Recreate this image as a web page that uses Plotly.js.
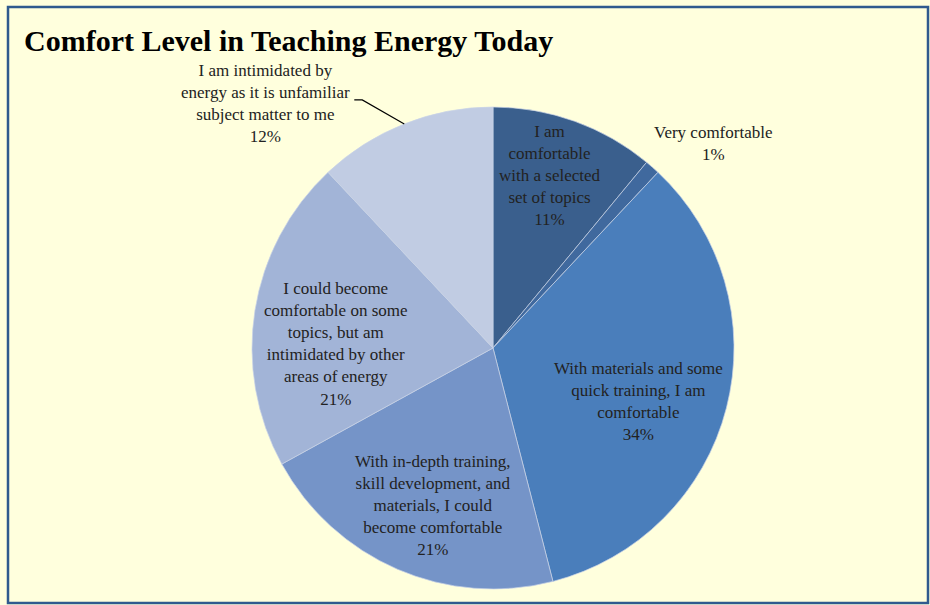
<!DOCTYPE html>
<html>
<head>
<meta charset="utf-8">
<script src="https://cdn.plot.ly/plotly-3.0.1.min.js"></script>
<style>
  html, body { margin: 0; padding: 0; background: #FFFFDD; }
  #chart { width: 930px; height: 605px; }
</style>
</head>
<body>
<div id="chart"></div>
<script>
// ---- data ----
const categories = [
  "I am<br>comfortable<br>with a selected<br>set of topics",
  "Very comfortable",
  "With materials and some<br>quick training, I am<br>comfortable",
  "With in-depth training,<br>skill development, and<br>materials, I could<br>become comfortable",
  "I could become<br>comfortable on some<br>topics, but am<br>intimidated by other<br>areas of energy",
  "I am intimidated by<br>energy as it is unfamiliar<br>subject matter to me"
];
const percentValues = [11, 1, 34, 21, 21, 12];

// ---- style ----
const sliceColors = ["#3A5F8D", "#40699E", "#4A7EBB", "#7594C8", "#A2B4D7", "#C1CCE3"];
// label placement: radial fraction of radius (inside) and pixel nudge
const labelRadial = [0.75, 1.0, 0.64, 0.70, 0.65, 1.0];
const labelNudge  = [[-4, -2], [61, -24], [-4, 15], [7, 3], [-2, 21], [-139, -20]];
const leaderSlices = [5];

const W = 930, H = 605;
const cx = 493, cy = 348, r = 241;
const FONT = "Liberation Serif";
function txtFont() { return { family: FONT, size: 17, color: "#222222" }; }

const trace = {
  type: "pie",
  labels: categories,
  values: percentValues,
  sort: false,
  direction: "clockwise",
  rotation: 0,
  marker: { colors: sliceColors, line: { color: "#C9D3E6", width: 0.7 } },
  textinfo: "none",
  hoverinfo: "none",
  showlegend: false,
  domain: {
    x: [(cx - r) / W, (cx + r) / W],
    y: [(H - cy - r) / H, (H - cy + r) / H]
  }
};

// label positions derived from the slice angles
const total = percentValues.reduce((a, b) => a + b, 0);
const annotations = [];
const shapes = [];
let cum = 0;
percentValues.forEach((v, i) => {
  const mid = (cum + v / 2) / total * 2 * Math.PI;
  cum += v;
  const rr = labelRadial[i] * r;
  const px = cx + rr * Math.sin(mid) + labelNudge[i][0];
  const py = cy - rr * Math.cos(mid) + labelNudge[i][1];
  annotations.push({
    xref: "paper", yref: "paper",
    x: px / W, y: 1 - py / H,
    xanchor: "center", yanchor: "middle",
    text: categories[i] + "<br>" + v + "%",
    font: txtFont(),
    showarrow: false
  });
  if (leaderSlices.includes(i)) {
    const ex = cx + r * Math.sin(mid), ey = cy - r * Math.cos(mid);
    const p = (x, y) => (x / W).toFixed(5) + "," + (1 - y / H).toFixed(5);
    shapes.push({
      type: "path", xref: "paper", yref: "paper",
      path: "M" + p(ex - 50, ey - 24) + " L" + p(ex - 42, ey - 24) + " L" + p(ex, ey),
      line: { color: "#000000", width: 1.2 }
    });
  }
});

shapes.push({
  type: "rect", xref: "paper", yref: "paper",
  x0: 8 / W, x1: 928 / W, y0: 1 - 603 / H, y1: 1 - 7 / H,
  line: { color: "#2F5A8E", width: 2.5 }, fillcolor: "rgba(0,0,0,0)"
});

const layout = {
  width: W, height: H,
  margin: { l: 0, r: 0, t: 0, b: 0 },
  paper_bgcolor: "#FFFFDD",
  plot_bgcolor: "#FFFFDD",
  font: { family: FONT, color: "#222222" },
  showlegend: false,
  title: {
    text: "<b>Comfort Level in Teaching Energy Today</b>",
    font: { family: FONT, size: 30, color: "#000000" },
    x: 24 / W, xanchor: "left", xref: "paper",
    y: 1 - 40 / H, yanchor: "middle", yref: "container"
  },
  annotations: annotations,
  shapes: shapes
};

Plotly.newPlot("chart", [trace], layout, { displayModeBar: false, staticPlot: true });
</script>
</body>
</html>
